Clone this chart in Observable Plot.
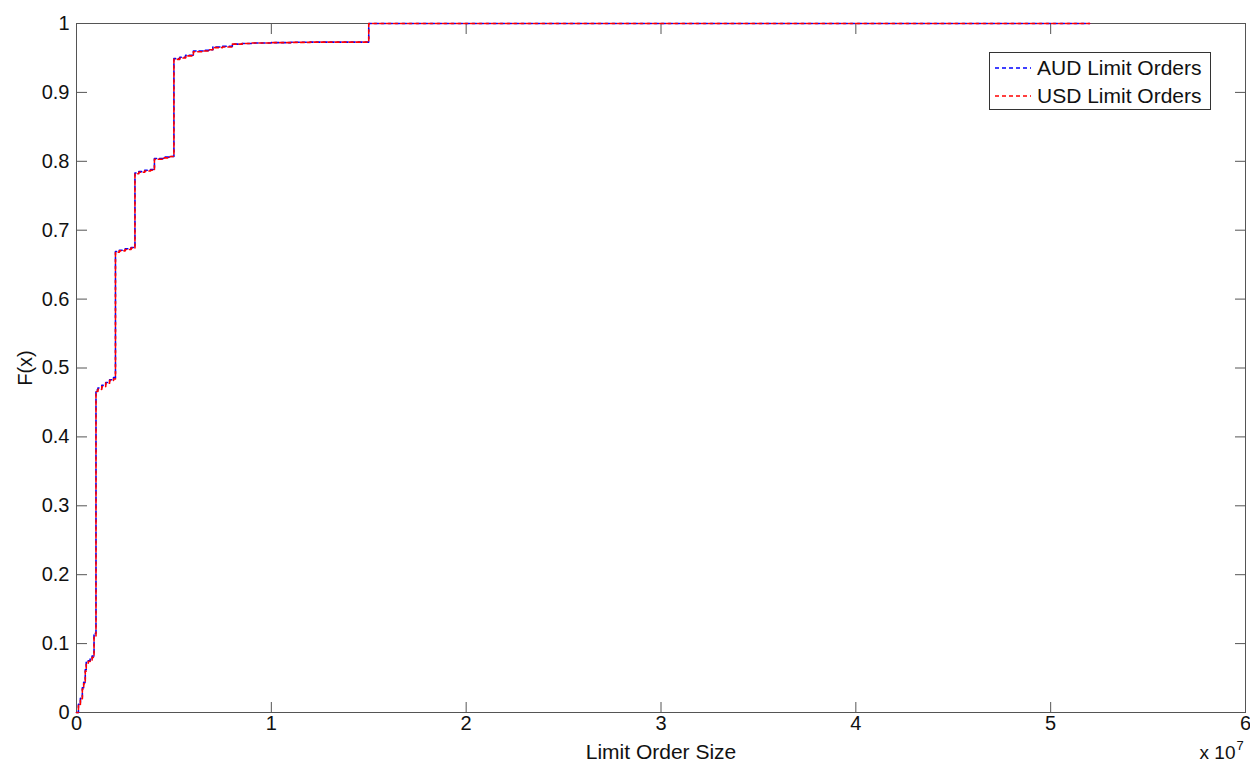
<!DOCTYPE html>
<html><head><meta charset="utf-8">
<script src="https://cdn.jsdelivr.net/npm/d3@7"></script>
<script src="https://cdn.jsdelivr.net/npm/@observablehq/plot@0.6"></script>
<style>
body{margin:0;background:#fff;font-family:"Liberation Sans",Arial,sans-serif;}
#wrap{position:relative;width:1250px;height:762px;}
#legend{position:absolute;left:989px;top:52px;width:222px;height:58px;border:1px solid #333;background:#fff;box-sizing:border-box;font-size:21px;color:#111;}
.row{position:absolute;left:5px;height:26px;display:flex;align-items:center;white-space:nowrap;}
.row svg{margin-right:6px;}
</style>
</head><body>
<div id="wrap"><div id="legend"></div></div>
<script>
const audX = [0, 1e5, 2e5, 3e5, 3.7e5, 4.5e5, 5e5, 6e5, 7e5, 8e5, 9e5, 1e6, 1.1e6, 1.3e6, 1.5e6, 1.7e6, 1.9e6, 2e6, 2.2e6, 2.5e6, 2.8e6, 3e6, 3.2e6, 3.5e6, 3.8e6, 4e6, 4.5e6, 4.8e6, 5e6, 5.3e6, 5.6e6, 6e6, 6.5e6, 6.8e6, 7e6, 7.5e6, 8e6, 8.5e6, 9e6, 1e7, 1.1e7, 1.2e7, 1.5e7, 5.2e7];
const audY = [0, 0.012, 0.022, 0.036, 0.044, 0.062, 0.073, 0.075, 0.078, 0.082, 0.115, 0.468, 0.471, 0.475, 0.479, 0.483, 0.486, 0.669, 0.671, 0.673, 0.675, 0.783, 0.785, 0.787, 0.788, 0.804, 0.806, 0.807, 0.949, 0.951, 0.954, 0.960, 0.961, 0.962, 0.966, 0.967, 0.970, 0.971, 0.9716, 0.9722, 0.9727, 0.973, 1.0, 1.0];
const usdX = [0, 1e5, 2e5, 3e5, 3.7e5, 4.5e5, 5e5, 6e5, 7e5, 8e5, 9e5, 1e6, 1.1e6, 1.3e6, 1.5e6, 1.7e6, 1.9e6, 2e6, 2.2e6, 2.5e6, 2.8e6, 3e6, 3.2e6, 3.5e6, 3.8e6, 4e6, 4.5e6, 4.8e6, 5e6, 5.3e6, 5.6e6, 6e6, 6.5e6, 6.8e6, 7e6, 7.5e6, 8e6, 8.5e6, 9e6, 1e7, 1.1e7, 1.2e7, 1.5e7, 5.2e7];
const usdY = [0, 0.010, 0.020, 0.034, 0.042, 0.060, 0.071, 0.074, 0.076, 0.080, 0.110, 0.466, 0.469, 0.473, 0.478, 0.482, 0.484, 0.668, 0.670, 0.672, 0.674, 0.782, 0.784, 0.786, 0.787, 0.803, 0.805, 0.807, 0.948, 0.950, 0.953, 0.959, 0.960, 0.962, 0.965, 0.966, 0.970, 0.971, 0.9716, 0.9722, 0.9726, 0.973, 1.0, 1.0];
const seriesNames = ["AUD Limit Orders", "USD Limit Orders"];
const seriesColors = ["#0000ff", "#ff0000"];
const xTicks = [0, 1e7, 2e7, 3e7, 4e7, 5e7, 6e7];
const xTickLabels = ["0", "1", "2", "3", "4", "5", "6"];
const yTicks = [0, 0.1, 0.2, 0.3, 0.4, 0.5, 0.6, 0.7, 0.8, 0.9, 1];
const yTickLabels = ["0", "0.1", "0.2", "0.3", "0.4", "0.5", "0.6", "0.7", "0.8", "0.9", "1"];

const aud = audX.map((x, i) => ({x, y: audY[i]}));
const usd = usdX.map((x, i) => ({x, y: usdY[i]}));
const axisColor = "#555";
const fnt = "Liberation Sans, Arial, sans-serif";

const chart = Plot.plot({
  width: 1250, height: 762,
  marginLeft: 76, marginRight: 5, marginTop: 23, marginBottom: 50,
  style: {fontFamily: fnt, fontSize: "20px", color: "#111", background: "#fff"},
  x: {domain: [0, 6e7]},
  y: {domain: [0, 1]},
  marks: [
    Plot.frame({stroke: axisColor}),
    // inward tick marks
    Plot.axisX({anchor: "bottom", ticks: xTicks, tickSize: 10, dy: -10, tickFormat: () => "", label: null, stroke: axisColor}),
    Plot.axisX({anchor: "top", ticks: xTicks, tickSize: 10, dy: 10, tickFormat: () => "", label: null, stroke: axisColor}),
    Plot.axisY({anchor: "left", ticks: yTicks, tickSize: 11, dx: 11, tickFormat: () => "", label: null, stroke: axisColor}),
    Plot.axisY({anchor: "right", ticks: yTicks, tickSize: 11, dx: -11, tickFormat: () => "", label: null, stroke: axisColor}),
    // tick labels + axis labels
    Plot.axisX({anchor: "bottom", ticks: xTicks, tickSize: 0, tickPadding: 3, fontSize: 20,
      tickFormat: d => xTickLabels[xTicks.indexOf(d)], label: null}),
    Plot.axisX({anchor: "bottom", ticks: [], tickSize: 0, fontSize: 21,
      label: "Limit Order Size", labelAnchor: "center", labelArrow: "none", labelOffset: 46}),
    Plot.axisY({anchor: "left", ticks: yTicks, tickSize: 0, tickPadding: 7, fontSize: 20,
      tickFormat: d => yTickLabels[yTicks.indexOf(d)], label: "F(x)", labelAnchor: "center", labelArrow: "none", labelOffset: 59}),
    Plot.line(aud, {x: "x", y: "y", curve: "step-after", stroke: seriesColors[0], strokeWidth: 1.6, strokeDasharray: "4,3"}),
    Plot.line(usd, {x: "x", y: "y", curve: "step-after", stroke: seriesColors[1], strokeWidth: 1.6, strokeDasharray: "4,3", strokeDashoffset: 2}),
    Plot.text(["x 10"], {frameAnchor: "bottom-right", dx: -10, dy: 46, textAnchor: "end", lineAnchor: "bottom", fontSize: 19, fill: "#111"}),
    Plot.text(["7"], {frameAnchor: "bottom-right", dx: -9, dy: 37, textAnchor: "start", lineAnchor: "bottom", fontSize: 13, fill: "#111"})
  ]
});
document.getElementById("wrap").prepend(chart);

const legend = document.getElementById("legend");
seriesNames.forEach((name, i) => {
  const row = document.createElement("div");
  row.className = "row";
  row.style.top = (2 + i * 28) + "px";
  row.innerHTML = `<svg width="36" height="10"><line x1="0" y1="5" x2="36" y2="5" stroke="${seriesColors[i]}" stroke-width="1.6" stroke-dasharray="4,3"/></svg><span>${name}</span>`;
  legend.appendChild(row);
});
</script>
</body></html>
